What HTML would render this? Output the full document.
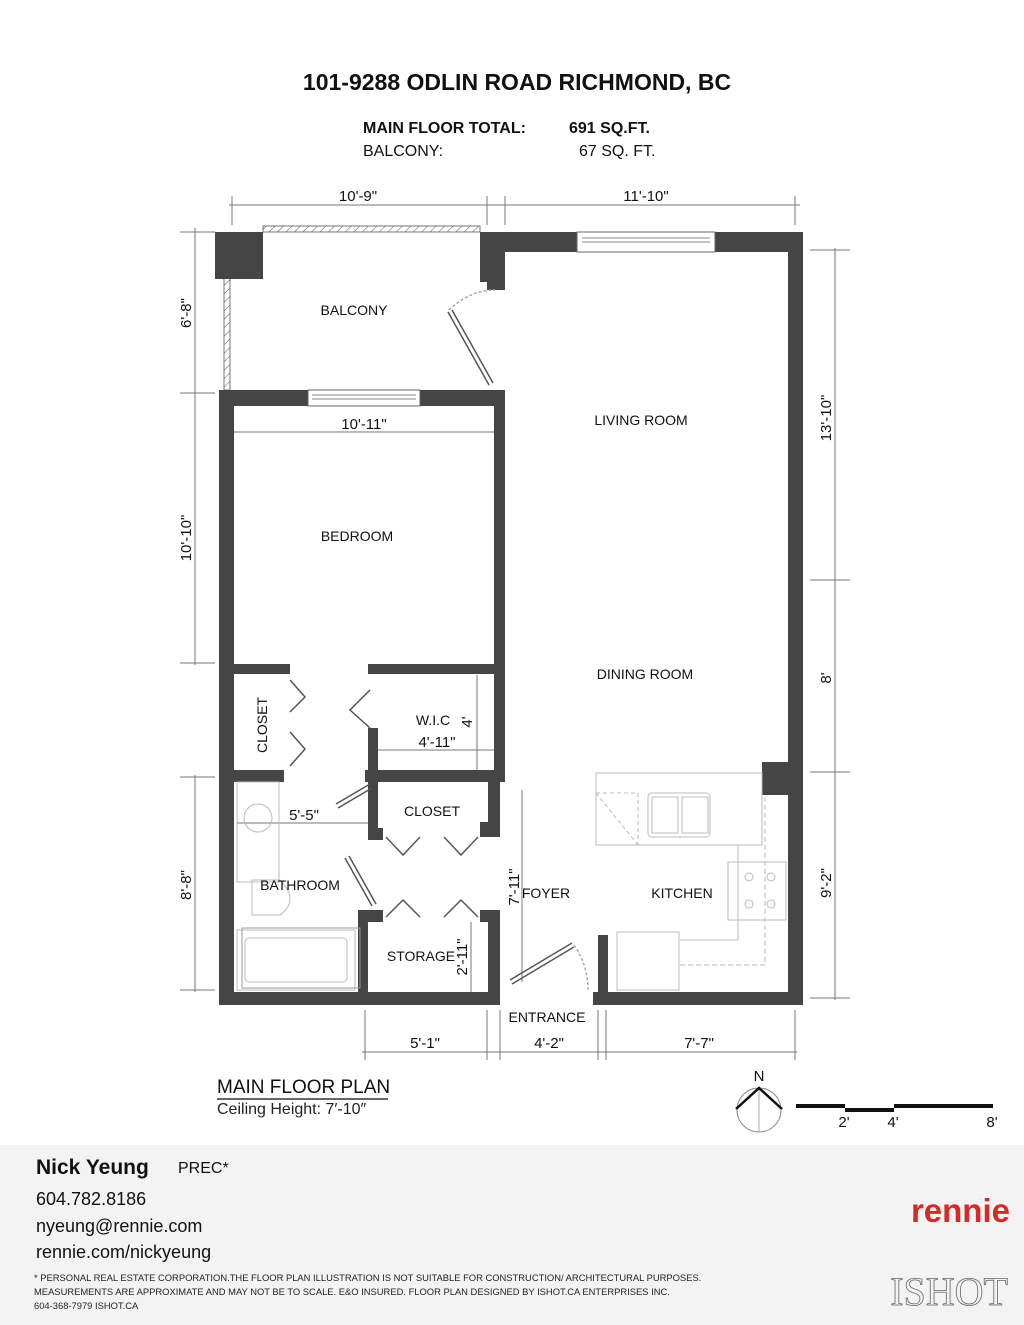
<!DOCTYPE html>
<html><head><meta charset="utf-8"><style>
html,body{margin:0;padding:0;background:#fff}
body{width:1024px;height:1325px;position:relative;overflow:hidden;font-family:"Liberation Sans",sans-serif}
svg{position:absolute;left:0;top:0}
</style></head><body>
<svg width="1024" height="1325" viewBox="0 0 1024 1325" xmlns="http://www.w3.org/2000/svg" font-family="Liberation Sans, sans-serif">
<defs>
<pattern id="h" width="6" height="6" patternUnits="userSpaceOnUse" patternTransform="rotate(45)">
<line x1="0" y1="0" x2="0" y2="6" stroke="#555" stroke-width="1"/></pattern>
</defs>
<text x="517" y="90" text-anchor="middle" font-size="23" font-weight="bold" fill="#111">101-9288 ODLIN ROAD RICHMOND, BC</text>
<text x="363" y="133" font-size="16" font-weight="bold" fill="#111">MAIN FLOOR TOTAL:</text>
<text x="569" y="133" font-size="16" font-weight="bold" fill="#111">691 SQ.FT.</text>
<text x="363" y="156" font-size="16" fill="#111">BALCONY:</text>
<text x="579" y="156" font-size="16" fill="#111">67 SQ. FT.</text>

<g stroke="#777" stroke-width="1" fill="none">
<line x1="229" y1="205" x2="800" y2="205"/>
<line x1="232" y1="196" x2="232" y2="225"/><line x1="487" y1="196" x2="487" y2="225"/><line x1="505" y1="196" x2="505" y2="225"/><line x1="795" y1="196" x2="795" y2="225"/>
<line x1="195" y1="228" x2="195" y2="665"/>
<line x1="195" y1="775" x2="195" y2="992"/>
<line x1="180" y1="232" x2="215" y2="232"/><line x1="180" y1="393" x2="215" y2="393"/><line x1="180" y1="663" x2="215" y2="663"/>
<line x1="180" y1="777" x2="215" y2="777"/><line x1="180" y1="990" x2="215" y2="990"/>
<line x1="835" y1="248" x2="835" y2="1000"/>
<line x1="810" y1="250" x2="850" y2="250"/><line x1="810" y1="580" x2="850" y2="580"/><line x1="810" y1="772" x2="850" y2="772"/><line x1="810" y1="998" x2="850" y2="998"/>
<line x1="362" y1="1052" x2="797" y2="1052"/>
<line x1="365" y1="1010" x2="365" y2="1060"/><line x1="487" y1="1010" x2="487" y2="1060"/><line x1="500" y1="1010" x2="500" y2="1060"/>
<line x1="598" y1="1010" x2="598" y2="1060"/><line x1="606" y1="1010" x2="606" y2="1060"/><line x1="795" y1="1010" x2="795" y2="1060"/>
<line x1="233" y1="432" x2="496" y2="432"/>
<line x1="375" y1="750" x2="496" y2="750"/>
<line x1="477" y1="675" x2="477" y2="772"/>
<line x1="237" y1="823" x2="370" y2="823"/>
<line x1="522" y1="790" x2="522" y2="982"/>
<line x1="471" y1="922" x2="471" y2="995"/>
</g>
<g font-size="15" fill="#111">
<text x="358" y="201" text-anchor="middle">10'-9"</text>
<text x="646" y="201" text-anchor="middle">11'-10"</text>
<text x="364" y="429" text-anchor="middle">10'-11"</text>
<text x="437" y="747" text-anchor="middle">4'-11"</text>
<text x="304" y="820" text-anchor="middle">5'-5"</text>
<text x="425" y="1048" text-anchor="middle">5'-1"</text>
<text x="549" y="1048" text-anchor="middle">4'-2"</text>
<text x="699" y="1048" text-anchor="middle">7'-7"</text>
<text transform="translate(191,313) rotate(-90)" text-anchor="middle">6'-8"</text>
<text transform="translate(191,538) rotate(-90)" text-anchor="middle">10'-10"</text>
<text transform="translate(191,885) rotate(-90)" text-anchor="middle">8'-8"</text>
<text transform="translate(831,418) rotate(-90)" text-anchor="middle">13'-10"</text>
<text transform="translate(831,678) rotate(-90)" text-anchor="middle">8'</text>
<text transform="translate(831,883) rotate(-90)" text-anchor="middle">9'-2"</text>
<text transform="translate(472,722) rotate(-90)" text-anchor="middle">4'</text>
<text transform="translate(519,887) rotate(-90)" text-anchor="middle">7'-11"</text>
<text transform="translate(467,957) rotate(-90)" text-anchor="middle">2'-11"</text>
</g>

<rect x="263" y="226" width="217" height="6" fill="url(#h)" stroke="#555" stroke-width="0.8"/>
<rect x="224" y="278" width="6" height="112" fill="url(#h)" stroke="#555" stroke-width="0.8"/>

<g fill="#454545">
<rect x="215" y="232" width="48" height="47"/>
<rect x="480" y="232" width="323" height="20"/>
<rect x="480" y="232" width="25" height="50"/>
<rect x="487" y="280" width="18" height="10"/>
<rect x="788" y="232" width="15" height="773"/>
<rect x="762" y="762" width="28" height="33"/>
<rect x="219" y="390" width="286" height="16"/>
<rect x="219" y="390" width="15" height="615"/>
<rect x="494" y="390" width="11" height="390"/>
<rect x="234" y="664" width="56" height="10"/>
<rect x="368" y="664" width="126" height="10"/>
<rect x="234" y="770" width="50" height="12"/>
<rect x="365" y="770" width="140" height="12"/>
<rect x="368" y="728" width="10" height="112"/>
<rect x="368" y="828" width="15" height="12"/>
<rect x="488" y="780" width="12" height="57"/>
<rect x="480" y="822" width="20" height="15"/>
<rect x="358" y="910" width="25" height="12"/>
<rect x="358" y="910" width="10" height="90"/>
<rect x="480" y="910" width="20" height="12"/>
<rect x="488" y="910" width="12" height="95"/>
<rect x="219" y="992" width="281" height="13"/>
<rect x="593" y="992" width="210" height="13"/>
<rect x="598" y="935" width="10" height="70"/>
</g>
<g fill="#fff" stroke="#666" stroke-width="1">
<rect x="577" y="232" width="138" height="20"/>
<rect x="308" y="390" width="112" height="16"/>
</g>
<g stroke="#888" stroke-width="1"><line x1="582" y1="238" x2="710" y2="238"/><line x1="582" y1="242" x2="710" y2="242"/>
<line x1="312" y1="395" x2="416" y2="395"/><line x1="312" y1="399" x2="416" y2="399"/></g>

<g stroke="#555" stroke-width="1.5" fill="none">
<line x1="448" y1="312" x2="489" y2="385"/><line x1="452" y1="310" x2="493" y2="383"/>
<path d="M449 310 Q470 290 495 290" stroke="#aaa" stroke-dasharray="3 2"/>
<line x1="336" y1="804" x2="370" y2="784"/><line x1="338" y1="808" x2="372" y2="788"/>
<line x1="345" y1="858" x2="372" y2="906"/><line x1="349" y1="856" x2="376" y2="904"/>
<line x1="510" y1="980" x2="572" y2="943"/><line x1="512" y1="984" x2="574" y2="947"/>
<path d="M574 945 Q588 965 588 990" stroke="#aaa" stroke-dasharray="3 2"/>
<polyline points="290,680 305,697 290,712"/><polyline points="290,732 305,749 290,766"/>
<polyline points="370,728 350,710 370,690"/>
<polyline points="386,837 403,855 420,837"/><polyline points="444,837 461,855 478,837"/>
<polyline points="386,917 403,900 420,917"/><polyline points="444,917 461,900 478,917"/>
</g>
<g stroke="#bbb" stroke-width="1" fill="none">
<rect x="237" y="782" width="42" height="100"/>
<ellipse cx="258" cy="818" rx="14" ry="14"/>
<rect x="237" y="930" width="118" height="60"/>
<rect x="245" y="938" width="102" height="44" rx="4"/>
<path d="M252 880 L280 880 Q300 900 280 915 L252 915 Z"/>
<rect x="242" y="928" width="118" height="60" stroke="#999"/>
<rect x="596" y="773" width="166" height="72"/>
<rect x="648" y="793" width="62" height="44" rx="4"/><rect x="652" y="797" width="26" height="36"/><rect x="682" y="797" width="26" height="36"/>
<rect x="596" y="793" width="42" height="52" stroke-dasharray="4 3"/>
<line x1="596" y1="793" x2="638" y2="845" stroke-dasharray="4 3"/>
<line x1="738" y1="845" x2="738" y2="940"/><line x1="680" y1="940" x2="738" y2="940"/>
<rect x="728" y="862" width="58" height="58"/>
<circle cx="749" cy="877" r="4"/><circle cx="771" cy="877" r="4"/><circle cx="749" cy="904" r="4"/><circle cx="771" cy="904" r="4"/>
<rect x="617" y="932" width="62" height="58"/>
<polyline points="680,965 765,965 765,795" stroke-dasharray="5 3"/>
</g>

<g font-size="14" fill="#111" text-anchor="middle">
<text x="354" y="315">BALCONY</text>
<text x="641" y="425">LIVING ROOM</text>
<text x="357" y="541">BEDROOM</text>
<text x="645" y="679">DINING ROOM</text>
<text x="433" y="725">W.I.C</text>
<text transform="translate(267,725) rotate(-90)">CLOSET</text>
<text x="432" y="816">CLOSET</text>
<text x="300" y="890">BATHROOM</text>
<text x="546" y="898">FOYER</text>
<text x="682" y="898">KITCHEN</text>
<text x="421" y="961">STORAGE</text>
<text x="547" y="1022">ENTRANCE</text>
</g>

<text x="217" y="1093" font-size="19" fill="#111">MAIN FLOOR PLAN</text>
<line x1="217" y1="1099" x2="388" y2="1099" stroke="#333" stroke-width="1.5"/>
<text x="217" y="1114" font-size="16" fill="#222">Ceiling Height: 7′-10″</text>

<text x="759" y="1081" font-size="15" text-anchor="middle" fill="#111">N</text>
<circle cx="759" cy="1110" r="22" fill="none" stroke="#888" stroke-width="1"/>
<line x1="759" y1="1088" x2="759" y2="1132" stroke="#aaa"/>
<polyline points="736,1109 759,1088 782,1109" fill="none" stroke="#111" stroke-width="2.5"/>
<rect x="796" y="1104" width="49" height="4" fill="#111"/>
<rect x="845" y="1108" width="49" height="4" fill="#111"/>
<rect x="894" y="1104" width="99" height="4" fill="#111"/>
<g font-size="15" fill="#111" text-anchor="middle"><text x="844" y="1127">2'</text><text x="893" y="1127">4'</text><text x="992" y="1127">8'</text></g>

<rect x="0" y="1145" width="1024" height="180" fill="#f3f3f3"/>
<text x="36" y="1174" font-size="21" font-weight="bold" fill="#111">Nick Yeung</text>
<text x="178" y="1173" font-size="16" fill="#111">PREC*</text>
<text x="36" y="1205" font-size="18" fill="#111">604.782.8186</text>
<text x="36" y="1232" font-size="18" fill="#111">nyeung@rennie.com</text>
<text x="36" y="1258" font-size="18" fill="#111">rennie.com/nickyeung</text>
<g font-size="9.4" fill="#222">
<text x="34" y="1281">* PERSONAL REAL ESTATE CORPORATION.THE FLOOR PLAN ILLUSTRATION IS NOT SUITABLE FOR CONSTRUCTION/ ARCHITECTURAL PURPOSES.</text>
<text x="34" y="1295">MEASUREMENTS ARE APPROXIMATE AND MAY NOT BE TO SCALE. E&amp;O INSURED. FLOOR PLAN DESIGNED BY ISHOT.CA ENTERPRISES INC.</text>
<text x="34" y="1309">604-368-7979  ISHOT.CA</text>
</g>
<text x="1010" y="1222" font-size="33" font-weight="bold" fill="#d42a2a" text-anchor="end">rennie</text>
<text x="1008" y="1305" font-size="40" fill="none" stroke="#666" stroke-width="0.8" text-anchor="end" font-family="Liberation Serif, serif">ISHOT</text>
</svg>
</body></html>
